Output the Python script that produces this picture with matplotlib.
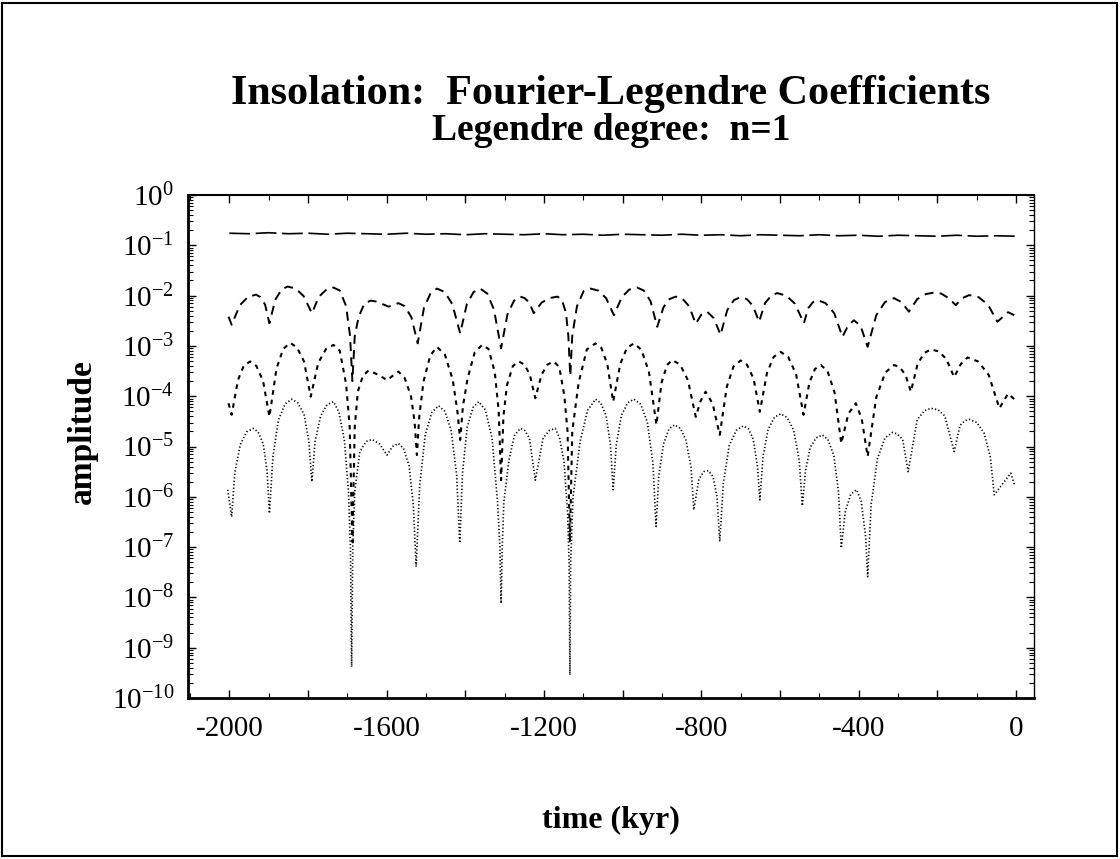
import numpy as np
import matplotlib.pyplot as plt
from matplotlib.ticker import FixedLocator, LogLocator, NullFormatter, FuncFormatter, LogFormatterMathtext
from matplotlib.patches import Rectangle

plt.rcParams['font.family'] = ['Liberation Serif', 'DejaVu Serif']
plt.rcParams['mathtext.fontset'] = 'stix'
plt.rcParams['axes.unicode_minus'] = False
plt.rcParams['lines.scale_dashes'] = False

# amplitudes are given as log10 exponents
# series 1: long dashes, about 0.17
e1 = [-0.76, -0.77, -0.75, -0.77, -0.76, -0.78, -0.76, -0.77, -0.78, -0.76,
      -0.78, -0.77, -0.79, -0.77, -0.78, -0.79, -0.77, -0.79, -0.78, -0.80,
      -0.78, -0.79, -0.80, -0.78, -0.80, -0.79, -0.81, -0.79, -0.80, -0.81,
      -0.79, -0.81, -0.80, -0.82, -0.80, -0.81, -0.82, -0.80, -0.82, -0.81,
      -0.82]
t1 = np.linspace(-2000, 0, len(e1))

# series 2: dashes, around 1e-2
t2 = [-2002, -1994, -1973, -1953, -1932, -1921, -1909, -1898, -1883, -1867,
      -1852, -1831, -1811, -1790, -1772, -1753, -1735, -1719, -1703, -1693,
      -1687, -1681, -1671, -1656, -1640, -1625, -1610, -1595, -1570, -1554,
      -1537, -1521, -1505, -1488, -1472, -1452, -1433, -1413, -1396, -1379,
      -1362, -1344, -1327, -1309, -1293, -1276, -1260, -1249, -1237, -1226,
      -1206, -1186, -1166, -1155, -1144, -1138, -1133, -1128, -1116, -1099,
      -1082, -1062, -1042, -1022, -1002, -983, -963, -946, -929, -912,
      -896, -881, -865, -848, -831, -814, -800, -785, -768, -751,
      -734, -717, -700, -684, -669, -653, -638, -622, -607, -584,
      -562, -539, -528, -516, -505, -484, -462, -441, -427, -412,
      -395, -377, -355, -333, -310, -291, -272, -251, -229, -208,
      -190, -171, -153, -136, -119, -95, -71, -47, -20, -4]
e2 = [-2.42, -2.58, -2.19, -2.03, -1.98, -2.03, -2.18, -2.55, -2.08, -1.88,
      -1.82, -1.86, -2.01, -2.35, -2.02, -1.88, -1.84, -1.90, -2.21, -2.8,
      -3.7, -2.8, -2.42, -2.15, -2.10, -2.12, -2.17, -2.22, -2.15, -2.21,
      -2.43, -2.95, -2.24, -1.95, -1.86, -1.93, -2.17, -2.75, -2.17, -1.93,
      -1.86, -1.96, -2.28, -3.05, -2.38, -2.10, -2.02, -2.05, -2.14, -2.35,
      -2.14, -2.05, -2.02, -2.07, -2.34, -2.8, -3.6, -2.8, -2.21, -1.91,
      -1.86, -1.90, -2.05, -2.39, -2.03, -1.88, -1.84, -1.90, -2.11, -2.62,
      -2.23, -2.07, -2.02, -2.06, -2.21, -2.56, -2.38, -2.32, -2.45, -2.78,
      -2.29, -2.09, -2.03, -2.07, -2.20, -2.52, -2.15, -2.00, -1.95, -2.0,
      -2.16, -2.55, -2.25, -2.13, -2.09, -2.15, -2.35, -2.82, -2.6, -2.49,
      -2.6, -3.02, -2.39, -2.13, -2.05, -2.13, -2.32, -2.07, -1.97, -1.94,
      -1.96, -2.05, -2.19, -2.05, -1.99, -2.03, -2.18, -2.52, -2.33, -2.39]

# series 3: short dashes, around 1e-3 .. 1e-4
t3 = [-2002, -1994, -1978, -1963, -1947, -1931, -1914, -1898, -1880, -1863,
      -1845, -1828, -1810, -1793, -1774, -1754, -1735, -1719, -1703, -1694,
      -1687, -1681, -1673, -1660, -1646, -1622, -1599, -1570, -1554, -1538,
      -1529, -1523, -1517, -1506, -1489, -1472, -1452, -1432, -1420, -1413,
      -1406, -1394, -1376, -1357, -1341, -1325, -1315, -1309, -1303, -1294,
      -1279, -1264, -1250, -1236, -1222, -1206, -1191, -1175, -1161, -1148,
      -1140, -1134, -1128, -1112, -1091, -1069, -1054, -1039, -1024, -1006,
      -989, -971, -952, -933, -914, -901, -887, -874, -854, -834,
      -814, -802, -789, -771, -753, -735, -718, -700, -684, -667,
      -651, -633, -616, -598, -579, -559, -540, -525, -511, -496,
      -479, -461, -444, -426, -407, -392, -377, -355, -332, -310,
      -296, -281, -267, -250, -233, -216, -196, -177, -157, -140,
      -123, -96, -69, -42, -20, -4]
e3 = [-4.14, -4.37, -3.68, -3.39, -3.31, -3.40, -3.70, -4.41, -3.45, -3.06,
      -2.94, -3.03, -3.31, -4.01, -3.34, -3.06, -2.98, -3.10, -3.76, -4.6,
      -6.9, -4.6, -3.9, -3.59, -3.49, -3.57, -3.68, -3.51, -3.64, -4.0,
      -4.5, -5.17, -4.4, -3.7, -3.19, -3.02, -3.17, -3.67, -4.3, -4.87,
      -4.2, -3.64, -3.13, -2.98, -3.06, -3.52, -4.3, -5.67, -4.4, -3.78,
      -3.40, -3.31, -3.37, -3.57, -4.04, -3.57, -3.37, -3.31, -3.42, -4.0,
      -4.7, -6.9, -4.7, -3.74, -3.07, -2.95, -3.04, -3.36, -4.11, -3.36,
      -3.04, -2.95, -3.08, -3.52, -4.57, -3.73, -3.38, -3.28, -3.37, -3.68,
      -4.41, -4.1, -3.91, -4.15, -4.77, -3.81, -3.41, -3.29, -3.37, -3.65,
      -4.31, -3.54, -3.22, -3.12, -3.22, -3.56, -4.37, -3.73, -3.46, -3.38,
      -3.50, -3.93, -4.94, -4.35, -4.14, -4.45, -5.20, -4.02, -3.53, -3.38,
      -3.42, -3.57, -3.91, -3.36, -3.14, -3.07, -3.11, -3.26, -3.62, -3.36,
      -3.23, -3.31, -3.58, -4.24, -3.95, -4.06]

# series 4: dotted, around 1e-5
t4 = [-2004, -1994, -1986, -1972, -1956, -1939, -1927, -1914, -1904, -1898,
      -1889, -1875, -1858, -1841, -1826, -1810, -1798, -1790, -1782, -1768,
      -1752, -1735, -1721, -1707, -1697, -1692, -1689, -1686, -1681, -1668,
      -1652, -1637, -1618, -1599, -1585, -1570, -1557, -1543, -1532, -1525,
      -1516, -1502, -1485, -1468, -1452, -1436, -1422, -1414, -1407, -1395,
      -1380, -1366, -1349, -1332, -1318, -1312, -1309, -1306, -1302, -1289,
      -1275, -1260, -1249, -1237, -1222, -1202, -1186, -1171, -1160, -1149,
      -1140, -1136, -1134, -1132, -1126, -1108, -1089, -1069, -1056, -1042,
      -1031, -1024, -1016, -1003, -987, -971, -954, -937, -923, -915,
      -908, -896, -882, -868, -853, -839, -826, -819, -806, -794,
      -782, -770, -760, -753, -744, -729, -711, -693, -680, -668,
      -657, -651, -643, -630, -614, -598, -582, -565, -551, -543,
      -535, -523, -508, -492, -478, -463, -451, -444, -434, -420,
      -405, -393, -382, -377, -368, -352, -333, -314, -302, -288,
      -274, -251, -233, -216, -198, -181, -157, -142, -130, -119,
      -100, -81, -65, -55, -13, -4]
e4 = [-5.86, -6.40, -5.52, -4.96, -4.71, -4.64, -4.71, -4.94, -5.48, -6.33,
      -5.20, -4.47, -4.15, -4.06, -4.13, -4.36, -4.88, -5.70, -4.91, -4.40,
      -4.17, -4.11, -4.32, -4.9, -5.9, -7.0, -9.38, -7.0, -5.9, -5.1,
      -4.9, -4.86, -4.95, -5.17, -5.0, -4.94, -5.04, -5.38, -6.17, -7.39,
      -5.79, -4.77, -4.32, -4.19, -4.30, -4.68, -5.56, -6.92, -5.52, -4.61,
      -4.22, -4.11, -4.27, -4.83, -6.1, -7.0, -8.12, -7.0, -6.1, -5.27,
      -4.78, -4.64, -4.68, -4.83, -5.67, -4.83, -4.68, -4.64, -4.84, -5.3,
      -6.3, -7.3, -9.54, -7.3, -6.0, -4.9, -4.28, -4.06, -4.13, -4.38,
      -4.96, -5.86, -4.96, -4.38, -4.13, -4.06, -4.16, -4.52, -5.33, -6.59,
      -5.58, -4.95, -4.65, -4.57, -4.64, -4.87, -5.41, -6.26, -5.65, -5.5,
      -5.48, -5.6, -6.0, -6.89, -5.74, -4.98, -4.68, -4.59, -4.65, -4.85,
      -5.4, -6.06, -5.2, -4.66, -4.42, -4.35, -4.42, -4.68, -5.27, -6.18,
      -5.48, -5.02, -4.83, -4.77, -4.86, -5.18, -5.9, -7.02, -6.3, -5.95,
      -5.86, -6.1, -6.8, -7.59, -6.15, -5.24, -4.83, -4.72, -4.75, -4.86,
      -5.50, -4.47, -4.29, -4.24, -4.27, -4.39, -5.10, -4.58, -4.49, -4.46,
      -4.52, -4.73, -5.21, -5.96, -5.53, -5.75]

fig = plt.figure(figsize=(11.2, 8.59), dpi=100)
ax = fig.add_axes([188/1120, 1 - 698/859, 846/1120, 503/859])

ax.plot(t1, 10.0**np.array(e1), color='black', lw=1.2, dashes=(15, 4))
ax.plot(t2, 10.0**np.array(e2), color='black', lw=1.4, dashes=(6.5, 4.5))
ax.plot(t3, 10.0**np.array(e3), color='black', lw=1.5, dashes=(3.3, 3.6))
ax.plot(t4, 10.0**np.array(e4), color='black', lw=1.2, dashes=(0.9, 1.6))

ax.set_yscale('log')
ax.set_xlim(-2105, 46)
ax.set_ylim(1e-10, 1)

ax.xaxis.set_major_locator(FixedLocator(np.arange(-2000, 1, 200)))
ax.xaxis.set_minor_locator(FixedLocator(np.arange(-2100, 1, 100)))
ax.xaxis.set_major_formatter(FuncFormatter(lambda v, p: '%d' % v if int(round(v)) % 400 == 0 else ''))
ax.yaxis.set_major_locator(LogLocator(base=10, numticks=20))
ax.yaxis.set_minor_locator(LogLocator(base=10, subs=np.arange(2, 10), numticks=20))
ax.yaxis.set_minor_formatter(NullFormatter())
ax.yaxis.set_major_formatter(LogFormatterMathtext())

ax.tick_params(which='both', direction='in', top=True, right=True)
ax.tick_params(which='major', length=6, width=1, labelsize=21)
ax.tick_params(axis='x', which='major', pad=13)
ax.tick_params(axis='y', which='major', pad=10)
ax.tick_params(which='minor', length=3.5, width=0.8)

ax.spines['left'].set_linewidth(2)
ax.spines['bottom'].set_linewidth(2)
ax.spines['top'].set_linewidth(1.5)
ax.spines['right'].set_linewidth(1)

fig.text(611/1120, 1 - 104/859, 'Insolation:  Fourier-Legendre Coefficients',
         ha='center', va='baseline', fontsize=30.3, fontweight='bold')
fig.text(611/1120, 1 - 140/859, 'Legendre degree:  n=1',
         ha='center', va='baseline', fontsize=27, fontweight='bold')
fig.text(611/1120, 1 - 820/859, 'time (kyr)', ha='center', va='center',
         fontsize=23, fontweight='bold')
fig.text(82/1120, 1 - 432/859, 'amplitude', ha='center', va='center',
         rotation=90, fontsize=24, fontweight='bold')

fig.patches.append(Rectangle((0.002, 0.003), 0.995, 0.994, transform=fig.transFigure,
                             fill=False, edgecolor='black', lw=1.5))

fig.savefig('out.png', dpi=100)
